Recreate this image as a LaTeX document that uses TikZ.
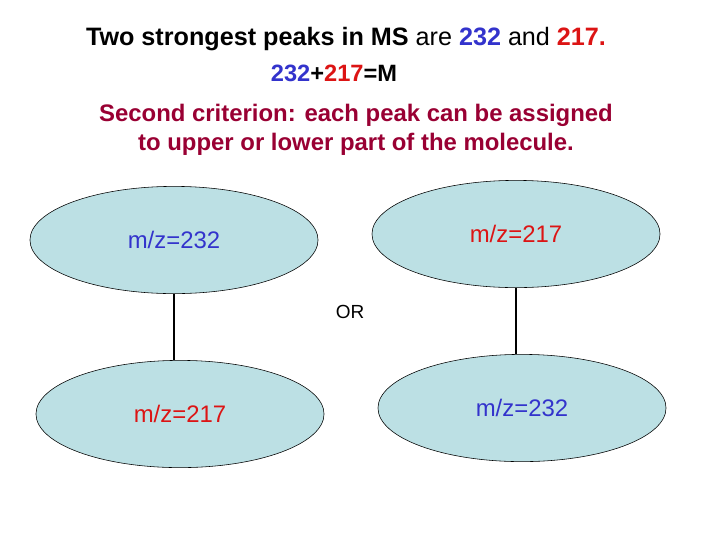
\documentclass[tikz,border=0pt]{standalone}
\usepackage{fontspec}
\setmainfont{Liberation Sans}
\usepackage{xcolor}
\definecolor{peakblue}{RGB}{51, 51, 204}
\definecolor{peakred}{RGB}{220, 20, 20}
\definecolor{critmaroon}{RGB}{153, 0, 51}
\definecolor{softcyan}{RGB}{188, 224, 228}
\usetikzlibrary{shapes.geometric}

\begin{document}
\begin{tikzpicture}[x=0.025cm, y=-0.025cm]

  \useasboundingbox (0, 0) rectangle (720, 540);
  \tikzset{
    fragment/.style={ellipse, draw=black, thin, fill=softcyan, inner sep=0pt,
      minimum width=7.2cm, minimum height=2.68cm, font=\fontsize{17}{20}\selectfont},
    headline/.style={font=\fontsize{17.9}{21}\selectfont, anchor=center},
    link/.style={line width=1.4pt}
  }

  % header text
  \node[headline] (title) at (346, 39)
    {\textbf{Two strongest peaks in MS} are \textbf{\color{peakblue}232} and \textbf{\color{peakred}217.}};
  \node[headline, font=\fontsize{16.8}{20}\selectfont] (sum) at (334, 73)
    {\textbf{\color{peakblue}232}\textbf{+}\textbf{\color{peakred}217}\textbf{=M}};
  \node[text=critmaroon, align=center, font=\fontsize{17}{20.5}\selectfont\bfseries] (crit) at (356, 130)
    {Second criterion: each peak can be assigned\\to upper or lower part of the molecule.};

  % first assignment - left
  \node[fragment] (lefttop) at (174, 240) {\color{peakblue}m/z=232};
  \node[fragment] (leftbot) at (180, 414) {\color{peakred}m/z=217};
  \draw[link] (lefttop.south) -- (lefttop.south |- leftbot.north);

  % second assignment - right
  \node[fragment] (righttop) at (516, 234) {\color{peakred}m/z=217};
  \node[fragment] (rightbot) at (522, 408) {\color{peakblue}m/z=232};
  \draw[link] (righttop.south) -- (righttop.south |- rightbot.north);

  \node[font=\fontsize{13.5}{16}\selectfont] (or) at (350, 312) {OR};

\end{tikzpicture}
\end{document}
